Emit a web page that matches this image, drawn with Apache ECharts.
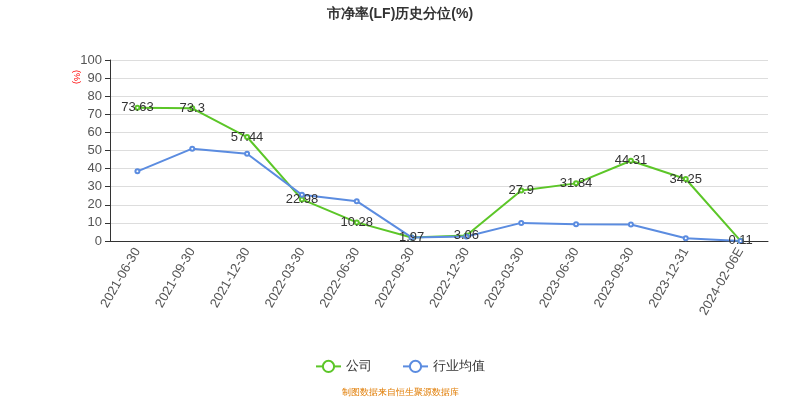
<!DOCTYPE html><html><head><meta charset="utf-8"><script src="https://cdn.jsdelivr.net/npm/echarts@6/dist/echarts.min.js"></script></head><body style="margin:0"><div id="c" style="width:800px;height:400px"></div><script>
const categories=['2021-06-30','2021-09-30','2021-12-30','2022-03-30','2022-06-30','2022-09-30','2022-12-30','2023-03-30','2023-06-30','2023-09-30','2023-12-31','2024-02-06E'];
const company=[73.63,73.3,57.44,22.98,10.28,1.97,3.06,27.9,31.84,44.31,34.25,0.11];
const industry=[38.5,51,48.2,25.5,22,2,2.5,10,9.2,9.1,1.5,0];
const yTicks={min:0,max:100,interval:10};
const c=echarts.init(document.getElementById('c'));
c.setOption({
title:{text:'市净率(LF)历史分位(%)',left:'center',top:2,textStyle:{fontSize:14,fontWeight:'bold',color:'#333'}},
grid:{left:110,right:32,top:60,bottom:159},
legend:{bottom:22,left:'center',itemGap:30,data:['公司','行业均值'],textStyle:{fontSize:13,color:'#333'}},
graphic:[{type:'text',left:'center',bottom:3,style:{text:'制图数据来自恒生聚源数据库',fill:'#e07b00',fontSize:9}},
{type:'text',left:72,top:70,rotation:-Math.PI/2,style:{text:'(%)',fill:'red',fontSize:9}}],
xAxis:{type:'category',data:categories,axisLine:{lineStyle:{color:'#333'}},axisTick:{lineStyle:{color:'#333'}},axisLabel:{rotate:60,color:'#555',fontSize:13,interval:0}},
yAxis:{type:'value',...yTicks,axisLine:{show:true,lineStyle:{color:'#333'}},axisTick:{show:true},axisLabel:{color:'#555',fontSize:13},splitLine:{lineStyle:{color:'#ddd'}}},
series:[{name:'公司',type:'line',data:company,color:'#5cc628',symbol:'emptyCircle',symbolSize:4,lineStyle:{width:2},label:{show:true,position:'inside',color:'#333',fontSize:13}},
{name:'行业均值',type:'line',data:industry,color:'#5b8ce0',symbol:'emptyCircle',symbolSize:4,lineStyle:{width:2}}]
});
</script></body></html>
